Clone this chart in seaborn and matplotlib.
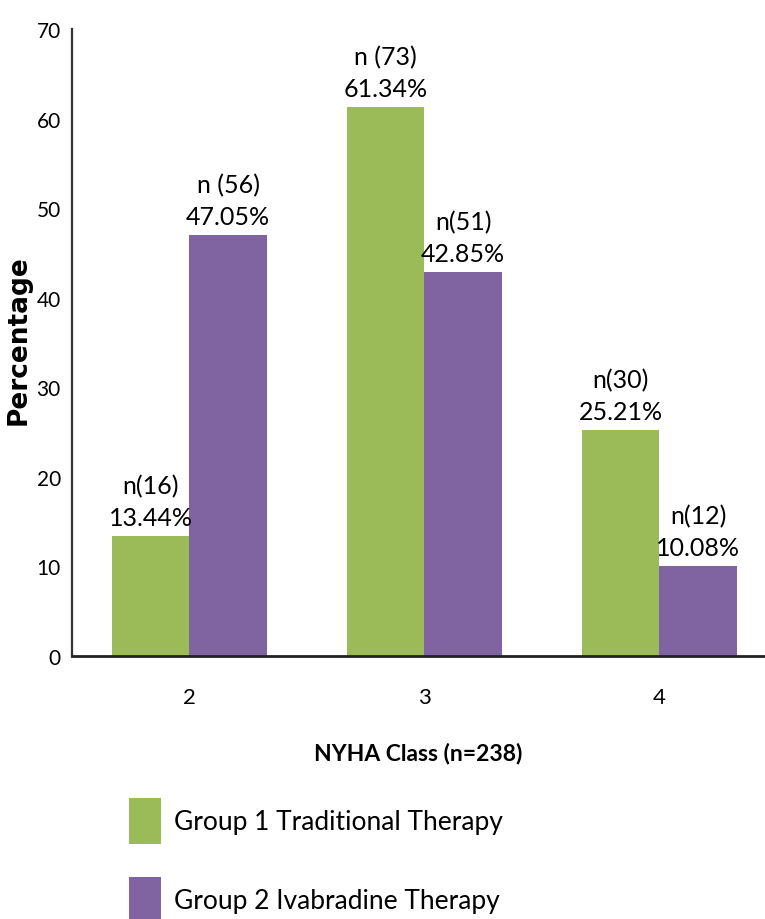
import numpy as np
import pandas as pd
import matplotlib
matplotlib.use("Agg")
import matplotlib.pyplot as plt
from matplotlib.patches import Patch
import seaborn as sns

# data
nyha_class = ["2", "3", "4"]
group_names = ["Group 1 Traditional Therapy", "Group 2 Ivabradine Therapy"]
group1_pct = [13.44, 61.34, 25.21]
group2_pct = [47.05, 42.85, 10.08]
group1_n = ["n(16)", "n (73)", "n(30)"]
group2_n = ["n (56)", "n(51)", "n(12)"]
y_ticks = [0, 10, 20, 30, 40, 50, 60, 70]

sns.set_style("white")
plt.rcParams["font.family"] = ["Lato", "DejaVu Sans"]
plt.rcParams["text.color"] = "black"
plt.rcParams["xtick.color"] = "black"
plt.rcParams["ytick.color"] = "black"
plt.rcParams["axes.labelcolor"] = "black"

df = pd.DataFrame({
    "NYHA": nyha_class * 2,
    "Group": [group_names[0]] * 3 + [group_names[1]] * 3,
    "Pct": group1_pct + group2_pct,
    "Label": [f"{n}\n{p:.2f}%" for n, p in zip(group1_n, group1_pct)]
             + [f"{n}\n{p:.2f}%" for n, p in zip(group2_n, group2_pct)],
})

colors = ["#9BBB59", "#8064A2"]

fig = plt.figure(figsize=(7.65, 9.2), dpi=100)
ax = fig.add_axes([72 / 765, 1 - 657 / 920, (765 - 72) / 765, 627 / 920])

sns.barplot(data=df, x="NYHA", y="Pct", hue="Group", order=nyha_class,
            hue_order=group_names, palette=colors, width=0.66, gap=0,
            saturation=1, edgecolor="none", legend=False, ax=ax)

# value labels over each bar
for cont, grp in zip(ax.containers, group_names):
    labels = df[df["Group"] == grp]["Label"].tolist()
    ax.bar_label(cont, labels=labels, padding=5, fontsize=18,
                 linespacing=1.45, color="black")

ax.set_ylim(0, 70)
ax.set_xlim(-0.5, 2.45)
ax.set_yticks(y_ticks)
ax.tick_params(axis="y", length=0, pad=8, labelsize=15)
ax.tick_params(axis="x", length=0, pad=22, labelsize=16)

for s in ["top", "right"]:
    ax.spines[s].set_visible(False)
ax.spines["left"].set_color("#333333")
ax.spines["left"].set_linewidth(1.6)
ax.spines["bottom"].set_color("#222222")
ax.spines["bottom"].set_linewidth(2)

ax.set_xlabel("NYHA Class (n=238)", fontsize=16.5, fontweight="bold",
              labelpad=25)
ax.set_ylabel("Percentage", fontsize=19, fontweight="heavy",
              family=["DejaVu Sans"])
ax.yaxis.set_label_coords(-0.058, 0.505)

handles = [Patch(facecolor=c, edgecolor="none") for c in colors]
fig.legend(handles, group_names, loc="upper left",
           bbox_to_anchor=(116 / 765, 1 - 786 / 920), frameon=False,
           fontsize=19, handlelength=1.2, handleheight=2.3,
           handletextpad=0.5, labelspacing=1.25, borderpad=0)

fig.savefig("out.png", dpi=100)
